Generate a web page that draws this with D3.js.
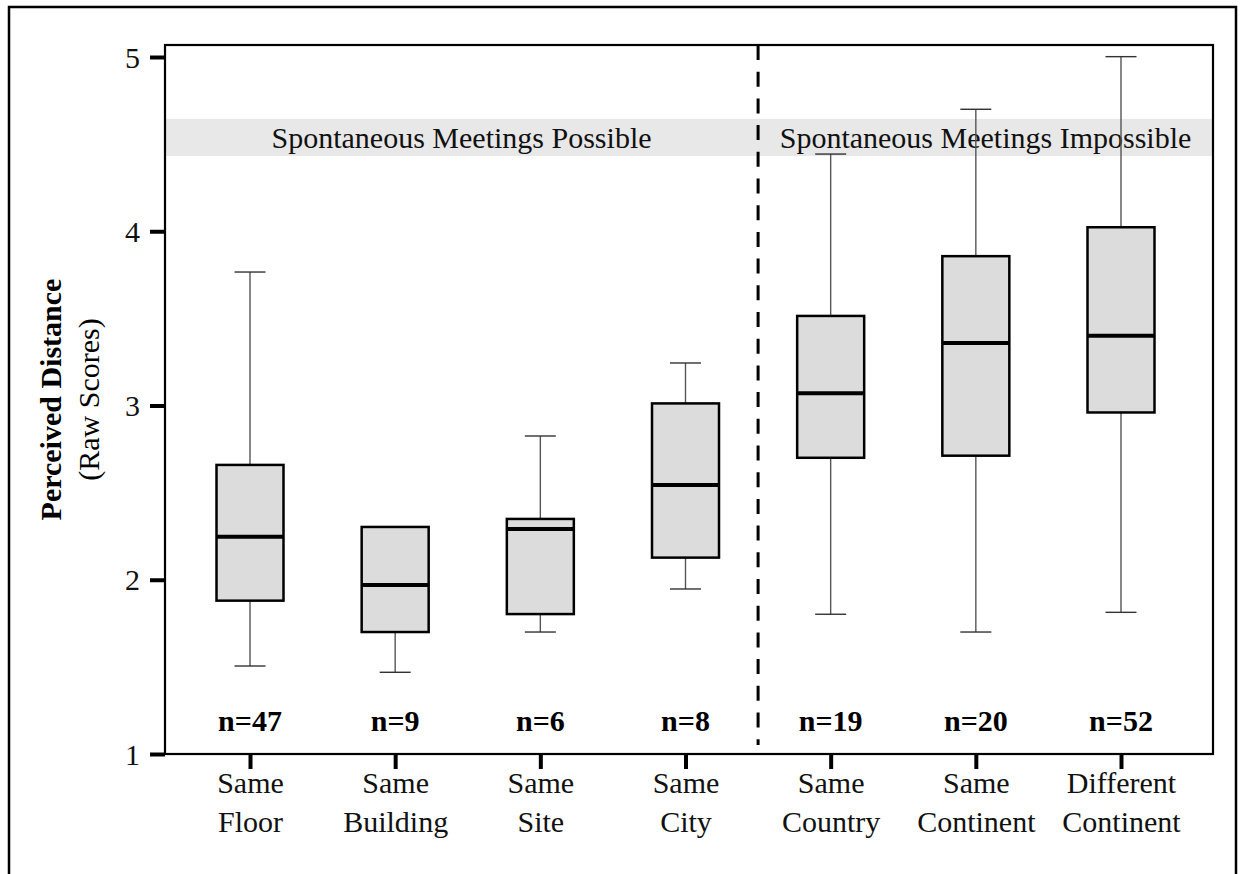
<!DOCTYPE html>
<html>
<head>
<meta charset="utf-8">
<script src="https://cdn.jsdelivr.net/npm/d3@7"></script>
<style>
  html, body { margin: 0; padding: 0; background: #fff; }
  svg { display: block; font-family: "Liberation Serif", "Times New Roman", serif; }
</style>
</head>
<body>
<svg id="chart" width="1244" height="874"></svg>
<script>
// ---- data ----
const categories = ["Same Floor", "Same Building", "Same Site", "Same City",
                    "Same Country", "Same Continent", "Different Continent"];
const whiskerLow  = [1.505, 1.469, 1.700, 1.947, 1.802, 1.700, 1.813];
const q1          = [1.880, 1.700, 1.803, 2.127, 2.700, 2.712, 2.960];
const medians     = [2.247, 1.970, 2.291, 2.544, 3.070, 3.358, 3.401];
const q3          = [2.659, 2.303, 2.349, 3.012, 3.514, 3.857, 4.023];
const whiskerHigh = [3.766, 2.303, 2.825, 3.244, 4.443, 4.700, 5.002];
const nCounts     = [47, 9, 6, 8, 19, 20, 52];
const yTicks      = [1, 2, 3, 4, 5];
const groupLabels = ["Spontaneous Meetings Possible", "Spontaneous Meetings Impossible"];
const groupSplit  = 4;            // first category index of the second group
const bandRange   = [4.432, 4.645];
const yTitle      = "Perceived Distance";
const ySubTitle   = "(Raw Scores)";

// ---- layout ----
const svg = d3.select("#chart");
const plot = { left: 165, right: 1213, top: 45, bottom: 754 };
const boxW = 67, capW = 31;
const FONT = 30;

const x = d3.scalePoint().domain(categories).range([250, 1121]);
const y = d3.scaleLinear().domain([1, 5]).range([754, 57]);

// outer frame
svg.append("rect").attr("x", 9).attr("y", 7).attr("width", 1227).attr("height", 900)
  .attr("fill", "none").attr("stroke", "#000").attr("stroke-width", 2.5);

// band
svg.append("rect")
  .attr("x", plot.left).attr("width", plot.right - plot.left)
  .attr("y", y(bandRange[1])).attr("height", y(bandRange[0]) - y(bandRange[1]))
  .attr("fill", "#e8e8e8");

const splitX = (x(categories[groupSplit - 1]) + x(categories[groupSplit])) / 2;
const groupCenters = [(plot.left + splitX) / 2, (splitX + plot.right) / 2];
svg.selectAll("text.group").data(groupLabels).join("text")
  .attr("class", "group")
  .attr("x", (d, i) => groupCenters[i])
  .attr("y", y(bandRange[0]) - 8)
  .attr("text-anchor", "middle")
  .attr("font-size", FONT)
  .attr("fill", "#111")
  .text(d => d);

// dashed divider
svg.append("line")
  .attr("x1", splitX).attr("x2", splitX)
  .attr("y1", plot.top).attr("y2", plot.bottom - 9)
  .attr("stroke", "#000").attr("stroke-width", 3)
  .attr("stroke-dasharray", "15,11.7");

// boxes
const data = categories.map((c, i) => ({
  c, lo: whiskerLow[i], q1: q1[i], med: medians[i], q3: q3[i], hi: whiskerHigh[i], n: nCounts[i]
}));

const g = svg.selectAll("g.box").data(data).join("g").attr("class", "box")
  .attr("transform", d => `translate(${x(d.c)},0)`);

// whiskers
g.filter(d => d.hi > d.q3).append("line")
  .attr("x1", 0).attr("x2", 0).attr("y1", d => y(d.hi)).attr("y2", d => y(d.q3))
  .attr("stroke", "#555").attr("stroke-width", 1.4);
g.filter(d => d.hi > d.q3).append("line")
  .attr("x1", -capW / 2).attr("x2", capW / 2).attr("y1", d => y(d.hi)).attr("y2", d => y(d.hi))
  .attr("stroke", "#333").attr("stroke-width", 1.4);
g.filter(d => d.lo < d.q1).append("line")
  .attr("x1", 0).attr("x2", 0).attr("y1", d => y(d.q1)).attr("y2", d => y(d.lo))
  .attr("stroke", "#555").attr("stroke-width", 1.4);
g.filter(d => d.lo < d.q1).append("line")
  .attr("x1", -capW / 2).attr("x2", capW / 2).attr("y1", d => y(d.lo)).attr("y2", d => y(d.lo))
  .attr("stroke", "#333").attr("stroke-width", 1.4);

g.append("rect")
  .attr("x", -boxW / 2).attr("width", boxW)
  .attr("y", d => y(d.q3)).attr("height", d => y(d.q1) - y(d.q3))
  .attr("fill", "#dcdcdc").attr("stroke", "#000").attr("stroke-width", 2.5);
g.append("line")
  .attr("x1", -boxW / 2).attr("x2", boxW / 2)
  .attr("y1", d => y(d.med)).attr("y2", d => y(d.med))
  .attr("stroke", "#000").attr("stroke-width", 4);

// n labels
g.append("text")
  .attr("x", 0).attr("y", 731)
  .attr("text-anchor", "middle")
  .attr("font-size", FONT).attr("font-weight", "bold")
  .text(d => "n=" + d.n);

// plot frame
svg.append("rect")
  .attr("x", plot.left).attr("y", plot.top)
  .attr("width", plot.right - plot.left).attr("height", plot.bottom - plot.top)
  .attr("fill", "none").attr("stroke", "#000").attr("stroke-width", 2.2);

// y axis
const yAxis = svg.append("g").attr("transform", `translate(${plot.left},0)`)
  .call(d3.axisLeft(y).tickValues(yTicks).tickSize(15).tickPadding(10).tickFormat(d3.format("d")));
yAxis.select(".domain").remove();
yAxis.selectAll(".tick line").attr("stroke", "#000").attr("stroke-width", 4);
yAxis.selectAll(".tick text").attr("font-size", FONT).attr("fill", "#111")
  .attr("font-family", "Liberation Serif, serif").attr("dy", "0.34em");

// x axis
const xAxis = svg.append("g").attr("transform", `translate(0,${plot.bottom})`)
  .call(d3.axisBottom(x).tickSize(15).tickFormat(""));
xAxis.select(".domain").remove();
xAxis.selectAll(".tick line").attr("stroke", "#000").attr("stroke-width", 4);
xAxis.selectAll(".tick text").remove();
xAxis.selectAll(".tick").each(function (d) {
  const parts = d.split(" ");
  const t = d3.select(this).append("text")
    .attr("text-anchor", "middle")
    .attr("font-size", FONT)
    .attr("font-family", "Liberation Serif, serif")
    .attr("fill", "#111");
  parts.forEach((p, i) => {
    t.append("tspan").attr("x", 0).attr("y", 39 + i * 39).text(p);
  });
});

// y title
const cy = (plot.top + plot.bottom) / 2;
svg.append("text")
  .attr("transform", `translate(61,${cy}) rotate(-90)`)
  .attr("text-anchor", "middle")
  .attr("font-size", FONT).attr("font-weight", "bold")
  .text(yTitle);
svg.append("text")
  .attr("transform", `translate(99,${cy}) rotate(-90)`)
  .attr("text-anchor", "middle")
  .attr("font-size", FONT)
  .text(ySubTitle);
</script>
</body>
</html>
